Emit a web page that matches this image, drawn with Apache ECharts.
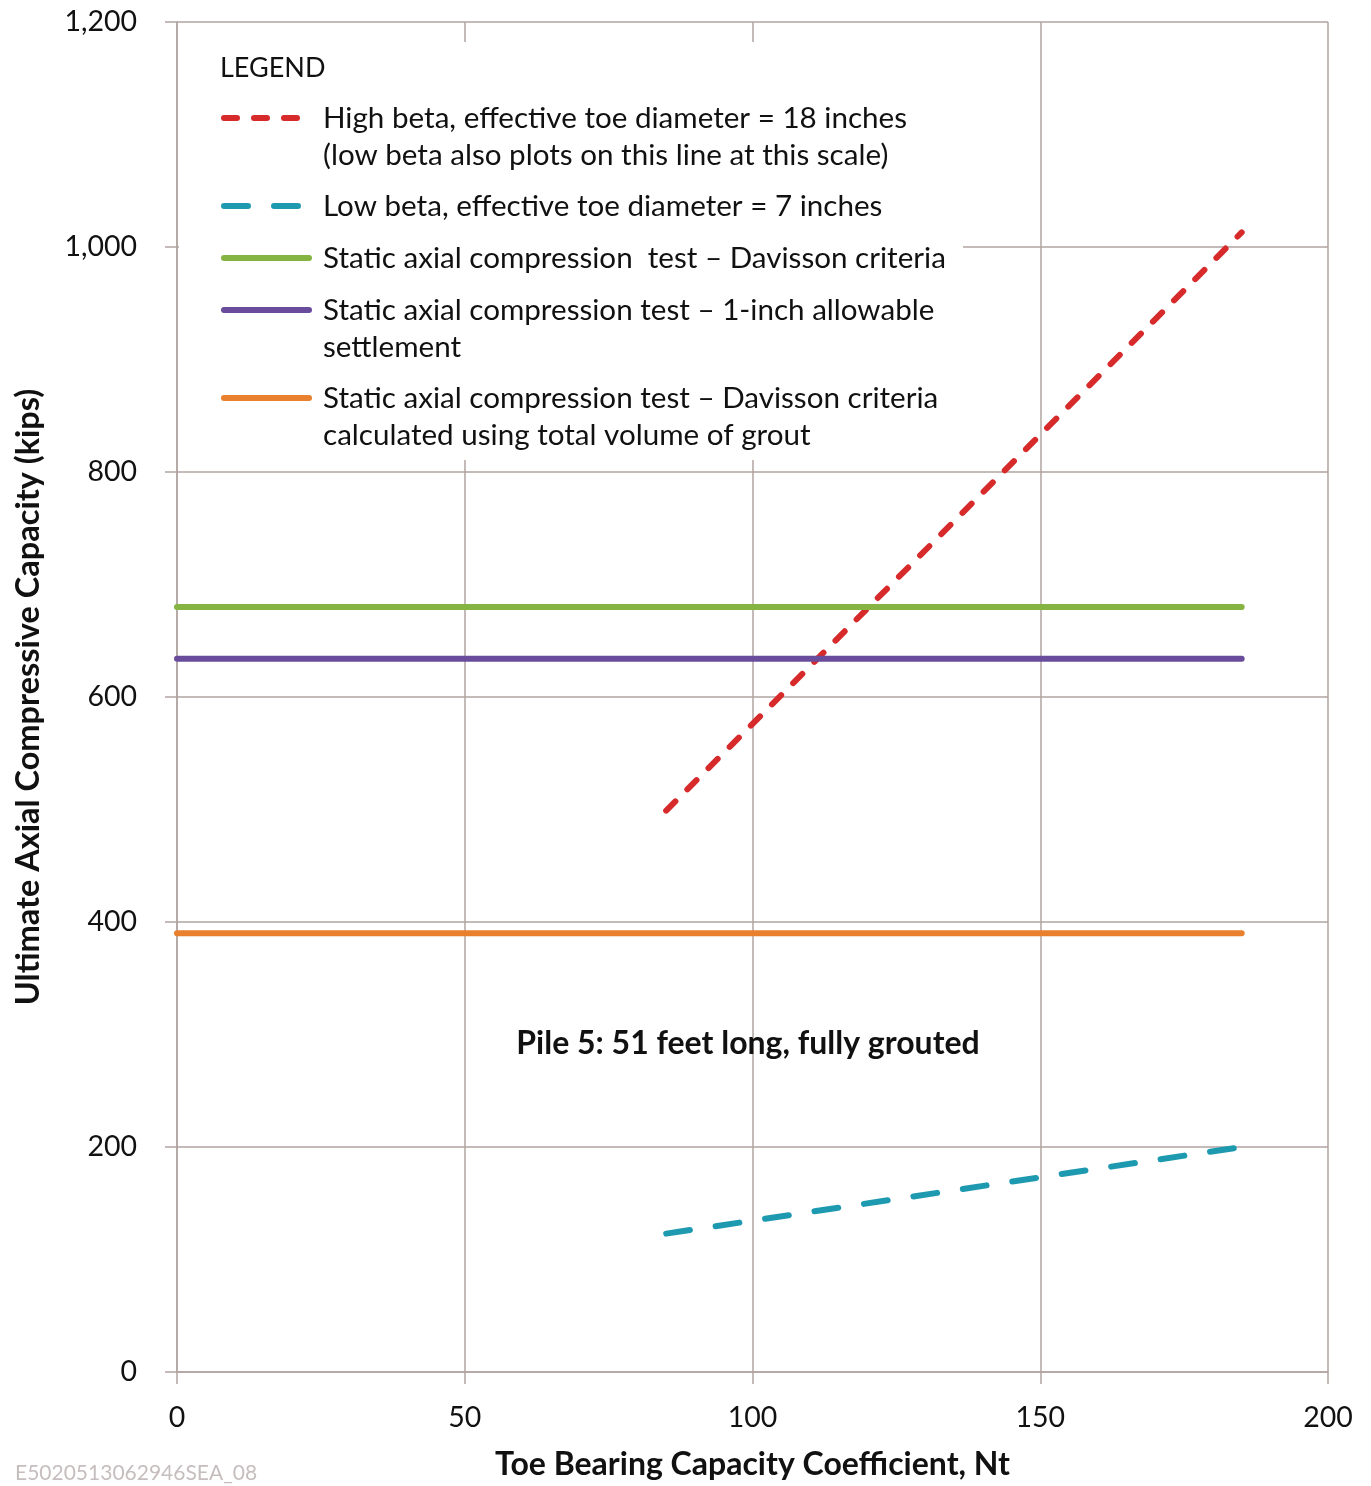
<!DOCTYPE html>
<html>
<head>
<meta charset="utf-8">
<script src="https://cdn.jsdelivr.net/npm/echarts@6/dist/echarts.min.js"></script>
<style>
html,body{margin:0;padding:0;background:#fff;}
#chart{width:1371px;height:1486px;}
</style>
</head>
<body>
<div id="chart"></div>
<script>
// ---- data ----
var seriesNames = [
  'High beta, effective toe diameter = 18 inches\n(low beta also plots on this line at this scale)',
  'Low beta, effective toe diameter = 7 inches',
  'Static axial compression  test \u2013 Davisson criteria',
  'Static axial compression test \u2013 1-inch allowable\nsettlement',
  'Static axial compression test \u2013 Davisson criteria\ncalculated using total volume of grout'
];
var highBetaNt = [85, 185];
var highBetaCap = [499, 1013];
var lowBetaNt = [85, 185];
var lowBetaCap = [123, 200];
var staticNt = [0, 185];
var davissonCap = [680, 680];
var oneInchCap = [634, 634];
var groutCap = [390, 390];
var xTicks = [0, 50, 100, 150, 200];
var yTicks = [0, 200, 400, 600, 800, 1000, 1200];
var annotation = 'Pile 5: 51 feet long, fully grouted';
var footnote = 'E5020513062946SEA_08';

var colors = ['#d62a2b', '#1e9ab0', '#86b443', '#6a4c9c', '#e8802e'];
var FONT = 'Lato';
var gridColor = '#b1a4a0';

function pairs(xs, ys){ return xs.map(function(x,i){ return [x, ys[i]]; }); }

var dataSets = [
  pairs(highBetaNt, highBetaCap),
  pairs(lowBetaNt, lowBetaCap),
  pairs(staticNt, davissonCap),
  pairs(staticNt, oneInchCap),
  pairs(staticNt, groutCap)
];
var lineTypes = [[13, 17], [24, 26], 'solid', 'solid', 'solid'];

var series = dataSets.map(function(d, i){
  return {
    name: seriesNames[i],
    type: 'line',
    data: d,
    symbol: 'none',
    z: 3,
    lineStyle: { color: colors[i], width: 6, type: lineTypes[i], cap: 'round' },
    itemStyle: { color: colors[i] },
    silent: true
  };
});

// legend rows: centre y of icon
var legendCenters = [118, 206, 258, 310, 398];
var legends = seriesNames.map(function(n, i){
  var twoLine = n.indexOf('\n') >= 0;
  return {
    data: [n],
    orient: 'vertical',
    left: 221,
    top: legendCenters[i] - (twoLine ? 55.5 : 18.5),
    padding: 0,
    itemWidth: 85,
    itemHeight: 8,
    itemGap: 0,
    selectedMode: false,
    lineStyle: { width: 6, cap: 'round' },
    itemStyle: { opacity: 0, borderWidth: 0 },
    formatter: function(name){ return name.indexOf('\n') >= 0 ? ' \n' + name : name; },
    textStyle: { fontFamily: FONT, fontSize: 29.6, color: '#111', lineHeight: 37, padding: [0,0,0,9] }
  };
});

var chart = echarts.init(document.getElementById('chart'), null, {renderer: 'canvas'});
chart.setOption({
  animation: false,
  backgroundColor: '#fff',
  grid: { left: 177, right: 43, top: 22, bottom: 113, containLabel: false },
  legend: legends,
  xAxis: {
    type: 'value', min: xTicks[0], max: xTicks[xTicks.length-1], interval: 50,
    name: 'Toe Bearing Capacity Coefficient, Nt',
    nameLocation: 'middle', nameGap: 77,
    nameTextStyle: { fontFamily: FONT, fontSize: 32, fontWeight: 'bold', color: '#111' },
    axisLine: { show: true, lineStyle: { color: gridColor, width: 1.5 } },
    axisTick: { show: true, length: 12, lineStyle: { color: gridColor, width: 1.5 } },
    axisLabel: { fontFamily: FONT, fontSize: 28.5, color: '#111', margin: 31 },
    splitLine: { show: true, lineStyle: { color: gridColor, width: 1.5 } }
  },
  yAxis: {
    type: 'value', min: yTicks[0], max: yTicks[yTicks.length-1], interval: 200,
    name: 'Ultimate Axial Compressive Capacity (kips)',
    nameLocation: 'middle', nameGap: 132,
    nameTextStyle: { fontFamily: FONT, fontSize: 32.5, fontWeight: 'bold', color: '#111' },
    axisLine: { show: true, lineStyle: { color: gridColor, width: 1.5 } },
    axisTick: { show: true, length: 12, lineStyle: { color: gridColor, width: 1.5 } },
    axisLabel: { fontFamily: FONT, fontSize: 28.5, color: '#111', margin: 40,
      formatter: function(v){ return v.toLocaleString('en-US'); } },
    splitLine: { show: true, lineStyle: { color: gridColor, width: 1.5 } }
  },
  graphic: [
    { type: 'rect', z: 2, silent: true,
      shape: { x: 179, y: 42, width: 784, height: 418 },
      style: { fill: '#fff' } },
    { type: 'text', z: 5, silent: true, left: 220, top: 55,
      style: { text: 'LEGEND', font: '27px ' + FONT, fill: '#111' } },
    { type: 'text', z: 5, silent: true, x: 748, y: 1044,
      style: { text: annotation, font: 'bold 32px ' + FONT, fill: '#111', align: 'center', verticalAlign: 'middle' } },
    { type: 'text', z: 5, silent: true, x: 15, y: 1473,
      style: { text: footnote, font: '21px ' + FONT, fill: '#c6bebe', align: 'left', verticalAlign: 'middle' } }
  ],
  series: series
});
</script>
</body>
</html>
